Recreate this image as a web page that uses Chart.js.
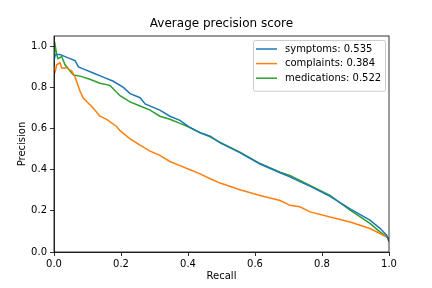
<!DOCTYPE html>
<html>
<head>
<meta charset="utf-8">
<script src="https://cdn.jsdelivr.net/npm/chart.js@4/dist/chart.umd.min.js"></script>
<style>
html,body{margin:0;padding:0;background:#fff;}
#wrap{width:432px;height:288px;position:relative;}
</style>
</head>
<body>
<div id="wrap"><canvas id="c" width="432" height="288"></canvas></div>
<script>
const titleText = "Average precision score";
const xLabel = "Recall";
const yLabel = "Precision";
const seriesNames = ["symptoms: 0.535", "complaints: 0.384", "medications: 0.522"];
const seriesColors = ["#1f77b4", "#ff7f0e", "#2ca02c"];
const tickValues = [0, 0.2, 0.4, 0.6, 0.8, 1.0];

const recallSymptoms = [0.0, 0.004, 0.018, 0.033, 0.048, 0.063, 0.073, 0.087, 0.117, 0.147, 0.177, 0.207, 0.227, 0.257, 0.272, 0.316, 0.346, 0.376, 0.406, 0.436, 0.466, 0.496, 0.555, 0.615, 0.675, 0.704, 0.734, 0.764, 0.824, 0.884, 0.943, 0.973, 0.993, 1.0];
const precisionSymptoms = [0.93, 0.96, 0.96, 0.95, 0.94, 0.93, 0.90, 0.89, 0.87, 0.85, 0.83, 0.80, 0.77, 0.75, 0.72, 0.69, 0.66, 0.64, 0.605, 0.58, 0.563, 0.53, 0.483, 0.428, 0.385, 0.365, 0.342, 0.32, 0.27, 0.21, 0.155, 0.115, 0.082, 0.05];

const recallComplaints = [0.0, 0.004, 0.008, 0.018, 0.023, 0.038, 0.053, 0.063, 0.078, 0.087, 0.098, 0.117, 0.137, 0.157, 0.187, 0.197, 0.227, 0.257, 0.287, 0.316, 0.346, 0.376, 0.406, 0.436, 0.466, 0.496, 0.555, 0.615, 0.675, 0.704, 0.734, 0.764, 0.824, 0.884, 0.943, 0.973, 1.0];
const precisionComplaints = [0.90, 0.88, 0.91, 0.92, 0.895, 0.895, 0.88, 0.85, 0.78, 0.75, 0.73, 0.70, 0.66, 0.645, 0.61, 0.59, 0.55, 0.52, 0.49, 0.47, 0.44, 0.42, 0.40, 0.38, 0.356, 0.335, 0.303, 0.275, 0.25, 0.227, 0.22, 0.195, 0.17, 0.146, 0.114, 0.09, 0.066];

const recallMedications = [0.0, 0.004, 0.008, 0.012, 0.023, 0.033, 0.048, 0.058, 0.078, 0.107, 0.137, 0.167, 0.197, 0.227, 0.257, 0.287, 0.316, 0.346, 0.376, 0.406, 0.436, 0.466, 0.496, 0.555, 0.615, 0.675, 0.704, 0.734, 0.764, 0.824, 0.884, 0.943, 0.973, 1.0];
const precisionMedications = [0.95, 1.0, 0.96, 0.94, 0.95, 0.91, 0.88, 0.86, 0.855, 0.84, 0.82, 0.81, 0.76, 0.73, 0.71, 0.69, 0.66, 0.645, 0.625, 0.605, 0.58, 0.56, 0.533, 0.485, 0.43, 0.388, 0.372, 0.348, 0.324, 0.275, 0.203, 0.139, 0.098, 0.066];

function pts(xs, ys){ return xs.map((x,i)=>({x:x, y:ys[i]})); }

const FONT = "'DejaVu Sans', sans-serif";

const framePlugin = {
  id: 'frame',
  afterDatasetsDraw(chart){
    const {ctx, chartArea:a} = chart;
    ctx.save();
    ctx.strokeStyle = '#000';
    ctx.lineWidth = 0.8;
    ctx.strokeRect(a.left, a.top, a.right - a.left, a.bottom - a.top);
    ctx.restore();
  },
  afterDraw(chart){
    const {ctx, chartArea:a} = chart;
    ctx.save();
    // title centred over the axes
    ctx.font = '12px ' + FONT;
    ctx.fillStyle = '#000';
    ctx.textAlign = 'center';
    ctx.textBaseline = 'middle';
    ctx.fillText(titleText, (a.left + a.right) / 2, a.top - 12);
    ctx.textAlign = 'left';
    // legend
    const ds = chart.data.datasets;
    const w = 132, rowH = 14.6;
    const h = ds.length * rowH + 7;
    const x0 = a.right - w - 4, y0 = a.top + 4;
    ctx.fillStyle = 'rgba(255,255,255,0.8)';
    ctx.strokeStyle = '#cccccc';
    ctx.lineWidth = 1;
    ctx.beginPath();
    if (ctx.roundRect) ctx.roundRect(x0 + 0.5, y0 + 0.5, w, h, 2); else ctx.rect(x0 + 0.5, y0 + 0.5, w, h);
    ctx.fill();
    ctx.stroke();
    ctx.font = '10px ' + FONT;
    ds.forEach((d, i) => {
      const cy = y0 + 9 + i * rowH;
      ctx.strokeStyle = d.borderColor;
      ctx.lineWidth = 1.5;
      ctx.beginPath();
      ctx.moveTo(x0 + 3, cy);
      ctx.lineTo(x0 + 24, cy);
      ctx.stroke();
      ctx.fillStyle = '#000';
      ctx.fillText(d.label, x0 + 32, cy);
    });
    ctx.restore();
  }
};

new Chart(document.getElementById('c'), {
  type: 'line',
  data: {
    datasets: [
      {label: seriesNames[0], data: pts(recallSymptoms, precisionSymptoms), borderColor: seriesColors[0]},
      {label: seriesNames[1], data: pts(recallComplaints, precisionComplaints), borderColor: seriesColors[1]},
      {label: seriesNames[2], data: pts(recallMedications, precisionMedications), borderColor: seriesColors[2]}
    ].map(d => Object.assign(d, {borderWidth: 1.5, pointRadius: 0, tension: 0, fill: false}))
  },
  options: {
    responsive: false,
    animation: false,
    layout: {padding: {left: 0, right: 43, top: 36, bottom: 0}},
    plugins: {
      legend: {display: false},
      tooltip: {enabled: false},
      title: {display: false}
    },
    scales: {
      x: {
        type: 'linear', min: 0, max: 1,
        afterBuildTicks: s => { s.ticks = tickValues.map(v => ({value: v})); },
        afterFit: s => { s.height = 36; },
        grid: {drawOnChartArea: false, tickLength: 4, tickColor: '#000', tickWidth: 0.8},
        border: {display: true, color: '#000', width: 0.8},
        ticks: {color: '#000', padding: 2, font: {family: FONT, size: 10}, callback: v => Number(v).toFixed(1), maxRotation: 0},
        title: {display: true, text: xLabel, color: '#000', font: {family: FONT, size: 10}, padding: {top: 0, bottom: 6}}
      },
      y: {
        type: 'linear', min: 0, max: 1.05,
        afterBuildTicks: s => { s.ticks = tickValues.map(v => ({value: v})); },
        afterFit: s => { s.width = 54; },
        grid: {drawOnChartArea: false, tickLength: 4, tickColor: '#000', tickWidth: 0.8},
        border: {display: true, color: '#000', width: 0.8},
        ticks: {color: '#000', padding: 3, font: {family: FONT, size: 10}, callback: v => Number(v).toFixed(1)},
        title: {display: true, text: yLabel, color: '#000', font: {family: FONT, size: 10}, padding: {top: 16, bottom: 0}}
      }
    }
  },
  plugins: [framePlugin]
});
</script>
</body>
</html>
